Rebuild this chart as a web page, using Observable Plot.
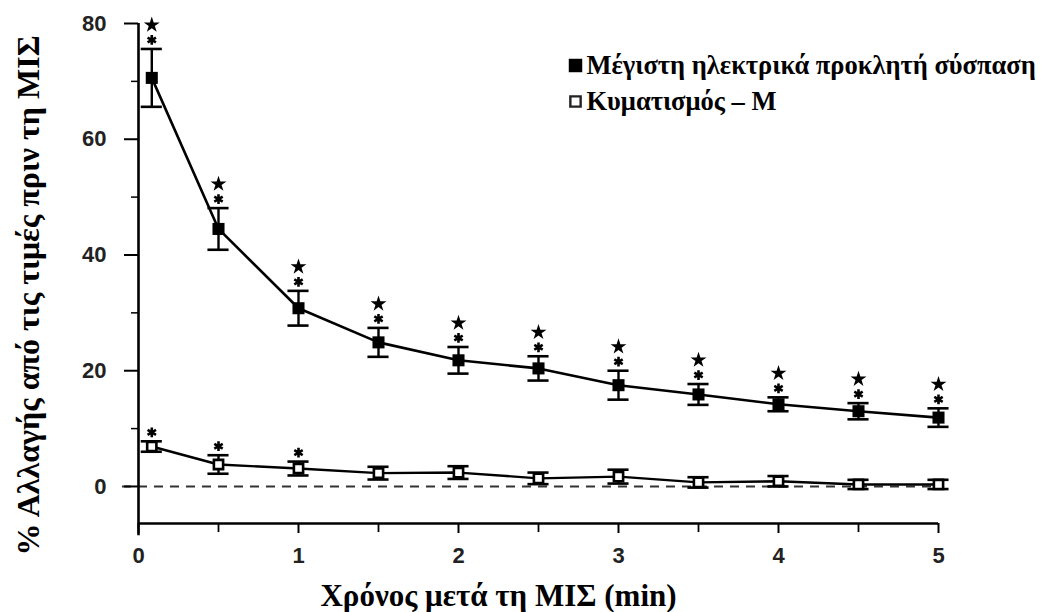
<!DOCTYPE html>
<html>
<head>
<meta charset="utf-8">
<script src="https://cdn.jsdelivr.net/npm/d3@7"></script>
<script src="https://cdn.jsdelivr.net/npm/@observablehq/plot@0.6"></script>
<style>
  html, body { margin: 0; padding: 0; background: #fff; }
  #chart { width: 1041px; height: 612px; }
</style>
</head>
<body>
<div id="chart"></div>
<script>
// ---- data ----
const times = [0.083, 0.5, 1, 1.5, 2, 2.5, 3, 3.5, 4, 4.5, 5];
const twitchMean = [70.6, 44.5, 30.8, 24.9, 21.8, 20.4, 17.5, 15.9, 14.2, 13.0, 11.9];
const twitchSE   = [5.0, 3.6, 3.0, 2.5, 2.3, 2.1, 2.5, 1.8, 1.2, 1.4, 1.6];
const mwaveMean  = [6.9, 3.8, 3.1, 2.3, 2.4, 1.4, 1.7, 0.7, 0.9, 0.35, 0.35];
const mwaveSE    = [0.9, 1.6, 1.2, 1.1, 1.1, 1.0, 1.2, 0.9, 0.9, 0.8, 0.8];
const twitchSig  = [true, true, true, true, true, true, true, true, true, true, true];
const mwaveSig   = [true, true, true, false, false, false, false, false, false, false, false];
const seriesNames = ["Μέγιστη ηλεκτρικά προκλητή σύσπαση", "Κυματισμός – Μ"];
const yTicks = [0, 20, 40, 60, 80];
const yMinor = [10, 30, 50, 70];
const xTicks = [0, 1, 2, 3, 4, 5];
const xMinor = [0.5, 1.5, 2.5, 3.5, 4.5];
const xTitle = "Χρόνος μετά τη ΜΙΣ (min)";
const yTitle = "% Αλλαγής από τις τιμές πριν τη ΜΙΣ";

const twitch = times.map((t, i) => ({t, m: twitchMean[i], lo: twitchMean[i] - twitchSE[i], hi: twitchMean[i] + twitchSE[i], sig: twitchSig[i]}));
const mwave  = times.map((t, i) => ({t, m: mwaveMean[i],  lo: mwaveMean[i] - mwaveSE[i],  hi: mwaveMean[i] + mwaveSE[i],  sig: mwaveSig[i]}));

const capHalf = 0.066; // half-width of error caps in x units
const serif = "'Liberation Serif', 'Times New Roman', serif";
const sans = "'Liberation Sans', Arial, sans-serif";

const errorMarks = (d) => [
  Plot.ruleX(d, {x: "t", y1: "lo", y2: "hi", stroke: "#000", strokeWidth: 2.4}),
  Plot.ruleY(d, {y: "hi", x1: (r) => r.t - capHalf, x2: (r) => r.t + capHalf, stroke: "#000", strokeWidth: 2.6}),
  Plot.ruleY(d, {y: "lo", x1: (r) => r.t - capHalf, x2: (r) => r.t + capHalf, stroke: "#000", strokeWidth: 2.6})
];

const chart = Plot.plot({
  width: 1041,
  height: 612,
  marginLeft: 138,
  marginRight: 103,
  marginTop: 23,
  marginBottom: 89,
  x: {domain: [0, 5]},
  y: {domain: [-6.4, 80]},
  style: {background: "#fff", color: "#000"},
  marks: [
    // zero reference
    Plot.ruleY([0], {x1: -0.1, x2: 5, stroke: "#333", strokeWidth: 2, strokeDasharray: "9,7"}),
    // axes lines
    Plot.ruleX([0], {y1: -8.5, y2: 80, stroke: "#000", strokeWidth: 2.6}),
    Plot.ruleY([-6.4], {x1: 0, x2: 5, stroke: "#000", strokeWidth: 2.6}),
    Plot.axisY(yTicks, {tickSize: 14, tickPadding: 18, strokeWidth: 2, fontSize: 22, fontWeight: "bold", fontFamily: sans, label: null, fill: "#222", tickFormat: d => String(d)}),
    Plot.axisY(yMinor, {tickSize: 7, tickFormat: () => "", label: null, strokeWidth: 1.5}),
    Plot.axisX(xTicks, {anchor: "bottom", tickSize: 10, tickPadding: 14, fontSize: 22, fontWeight: "bold", fontFamily: sans, label: null, strokeWidth: 2, fill: "#222", tickFormat: d => String(d)}),
    Plot.axisX(xMinor, {anchor: "bottom", tickSize: 9, tickFormat: () => "", label: null, strokeWidth: 1.8}),
    // series lines
    Plot.line(twitch, {x: "t", y: "m", stroke: "#000", strokeWidth: 2.6}),
    Plot.line(mwave, {x: "t", y: "m", stroke: "#000", strokeWidth: 2.4}),
    ...errorMarks(twitch),
    ...errorMarks(mwave),
    Plot.dot(twitch, {x: "t", y: "m", symbol: "square", r: 6.8, fill: "#000", stroke: "none"}),
    Plot.dot(mwave, {x: "t", y: "m", symbol: "square", r: 5.2, fill: "#fff", stroke: "#000", strokeWidth: 2.6}),
    // significance markers
    Plot.dot(twitch.filter(d => d.sig), {x: "t", y: "hi", symbol: "asterisk", r: 4.6, stroke: "#000", strokeWidth: 2.6, dy: -9}),
    Plot.dot(twitch.filter(d => d.sig), {x: "t", y: "hi", symbol: "star", r: 5, fill: "#000", stroke: "none", dy: -24}),
    Plot.dot(mwave.filter(d => d.sig), {x: "t", y: "hi", symbol: "asterisk", r: 4.6, stroke: "#000", strokeWidth: 2.6, dy: -9}),
    // legend
    Plot.dot([seriesNames[0]], {frameAnchor: "top-left", dx: 437, dy: 42, symbol: "square", r: 7.6, fill: "#000"}),
    Plot.dot([seriesNames[1]], {frameAnchor: "top-left", dx: 437, dy: 78, symbol: "square", r: 5.8, fill: "#fff", stroke: "#222", strokeWidth: 2.4}),
    Plot.text([seriesNames[0]], {frameAnchor: "top-left", text: d => d, dx: 448, dy: 42, textAnchor: "start", lineAnchor: "middle", fontSize: 26.5, fontWeight: "bold", fontFamily: serif, fill: "#000"}),
    Plot.text([seriesNames[1]], {frameAnchor: "top-left", text: d => d, dx: 448, dy: 78, textAnchor: "start", lineAnchor: "middle", fontSize: 26.5, fontWeight: "bold", fontFamily: serif, fill: "#000"}),
    // titles
    Plot.text([xTitle], {frameAnchor: "bottom", text: d => d, dx: -40, dy: 73, textAnchor: "middle", lineAnchor: "middle", fontSize: 31, fontWeight: "bold", fontFamily: serif, fill: "#000"}),
    Plot.text([yTitle], {frameAnchor: "left", text: d => d, dx: -110, dy: 22, rotate: -90, textAnchor: "middle", lineAnchor: "middle", fontSize: 32, fontWeight: "bold", fontFamily: serif, fill: "#000"})
  ]
});
document.getElementById("chart").appendChild(chart);
</script>
</body>
</html>
